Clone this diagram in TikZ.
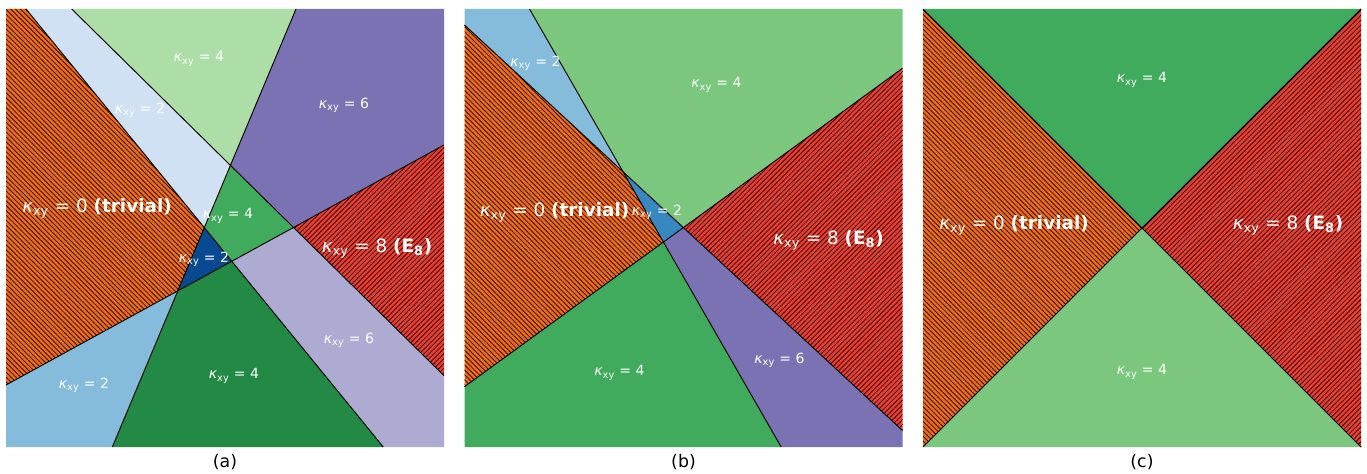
\documentclass[tikz,border=0pt]{standalone}
\usepackage{fontspec}
\setmainfont{DejaVu Sans}
\usepackage{tikz}
\usetikzlibrary{patterns.meta}
\definecolor{oranje}{HTML}{F16913}
\definecolor{rood}{HTML}{EF3B2C}
\definecolor{paars}{HTML}{7B72B4}
\definecolor{lavendel}{HTML}{ADABD2}
\definecolor{bleekblauw}{HTML}{CFE1F2}
\definecolor{middenblauw}{HTML}{85BCDB}
\definecolor{blauw}{HTML}{3787C0}
\definecolor{donkerblauw}{HTML}{084A91}
\definecolor{lichtgroen}{HTML}{ADDEA7}
\definecolor{groen}{HTML}{7BC77E}
\definecolor{middengroen}{HTML}{41AB5D}
\definecolor{donkergroen}{HTML}{228A44}
\newcommand{\kxy}[1]{\textit{κ}\textsubscript{xy} = #1}

\begin{document}
\begin{tikzpicture}[x=0.75pt, y=-0.75pt,
  rand/.style={draw=black, line width=0.7pt},
  lbl/.style={text=white, inner sep=0pt, font=\fontsize{10.5}{12}\selectfont},
  groot/.style={text=white, inner sep=0pt, font=\fontsize{13.8}{16}\selectfont},
  onder/.style={inner sep=0pt, font=\fontsize{13}{15}\selectfont},
  arceernul/.style={preaction={fill=oranje}, pattern color=black,
    pattern={Lines[angle=-45, distance=2.6pt, line width=0.5pt]}},
  arceeracht/.style={preaction={fill=rood}, pattern color=black,
    pattern={Lines[angle=45, distance=2.6pt, line width=0.5pt]}}]
  \useasboundingbox (0,0) rectangle (1367,474);
  \def\L{438} % zijde van een paneel

  % ---------- paneel (a) ----------
  \begin{scope}[shift={(6,9)}]
    % randpunten van de vier lijnen
    \coordinate (a1s) at (65.7,0);  \coordinate (a1e) at (\L,366.7);
    \coordinate (a2s) at (20,0);    \coordinate (a2e) at (377.3,\L);
    \coordinate (a3s) at (290,0);   \coordinate (a3e) at (106.3,\L);
    \coordinate (a4s) at (0,376);   \coordinate (a4e) at (\L,136);
    % snijpunten
    \coordinate (aA) at (intersection of a1s--a1e and a3s--a3e);
    \coordinate (aB) at (intersection of a2s--a2e and a3s--a3e);
    \coordinate (aC) at (intersection of a3s--a3e and a4s--a4e);
    \coordinate (aD) at (intersection of a2s--a2e and a4s--a4e);
    \coordinate (aE) at (intersection of a1s--a1e and a4s--a4e);
    % gebieden
    \fill[arceernul] (0,0) -- (a2s) -- (aB) -- (aC) -- (a4s) -- cycle;
    \fill[bleekblauw] (a2s) -- (a1s) -- (aA) -- (aB) -- cycle;
    \fill[lichtgroen] (a1s) -- (a3s) -- (aA) -- cycle;
    \fill[paars] (a3s) -- (\L,0) -- (a4e) -- (aE) -- (aA) -- cycle;
    \fill[middengroen] (aA) -- (aE) -- (aD) -- (aB) -- cycle;
    \fill[donkerblauw] (aB) -- (aD) -- (aC) -- cycle;
    \fill[arceeracht] (aE) -- (a4e) -- (a1e) -- cycle;
    \fill[lavendel] (aE) -- (a1e) -- (\L,\L) -- (a2e) -- (aD) -- cycle;
    \fill[donkergroen] (aD) -- (a2e) -- (a3e) -- (aC) -- cycle;
    \fill[middenblauw] (aC) -- (a3e) -- (0,\L) -- (a4s) -- cycle;
    % grenslijnen
    \draw[rand] (a1s) -- (a1e);
    \draw[rand] (a2s) -- (a2e);
    \draw[rand] (a3s) -- (a3e);
    \draw[rand] (a4s) -- (a4e);
    % labels
    \node[lbl] (a-vier-boven) at (193,50) {\kxy{4}};
    \node[lbl] (a-twee-boven) at (134,101) {\kxy{2}};
    \node[lbl] (a-zes-boven) at (338,96) {\kxy{6}};
    \node[groot] (a-triviaal) at (91,199) {\kxy{0} \textbf{(trivial)}};
    \node[lbl] (a-vier-mid) at (222,207) {\kxy{4}};
    \node[lbl] (a-twee-mid) at (198,250) {\kxy{2}};
    \node[groot] (a-eacht) at (371,239) {\kxy{8} \textbf{(E\textsubscript{8})}};
    \node[lbl] (a-zes-onder) at (343,331) {\kxy{6}};
    \node[lbl] (a-twee-onder) at (78,376) {\kxy{2}};
    \node[lbl] (a-vier-onder) at (228,367) {\kxy{4}};
    \node[onder] (a-titel) at (\L/2,453) {(a)};
  \end{scope}

  % ---------- paneel (b) ----------
  \begin{scope}[shift={(464.5,9)}]
    \coordinate (b1s) at (65,0);    \coordinate (b1e) at (316.7,\L);
    \coordinate (b2s) at (0,16);    \coordinate (b2e) at (\L,421.5);
    \coordinate (b3s) at (0,377.7); \coordinate (b3e) at (\L,59.3);
    \coordinate (bP) at (intersection of b1s--b1e and b2s--b2e);
    \coordinate (bQ) at (intersection of b2s--b2e and b3s--b3e);
    \coordinate (bR) at (intersection of b1s--b1e and b3s--b3e);
    % gebieden
    \fill[middenblauw] (0,0) -- (b1s) -- (bP) -- (b2s) -- cycle;
    \fill[groen] (b1s) -- (\L,0) -- (b3e) -- (bQ) -- (bP) -- cycle;
    \fill[arceernul] (b2s) -- (bP) -- (bR) -- (b3s) -- cycle;
    \fill[blauw] (bP) -- (bQ) -- (bR) -- cycle;
    \fill[arceeracht] (bQ) -- (b3e) -- (b2e) -- cycle;
    \fill[paars] (bR) -- (bQ) -- (b2e) -- (\L,\L) -- (b1e) -- cycle;
    \fill[middengroen] (b3s) -- (bR) -- (b1e) -- (0,\L) -- cycle;
    % grenslijnen
    \draw[rand] (b1s) -- (b1e);
    \draw[rand] (b2s) -- (b2e);
    \draw[rand] (b3s) -- (b3e);
    % labels
    \node[lbl] (b-twee-boven) at (71,54) {\kxy{2}};
    \node[lbl] (b-vier-boven) at (252,76) {\kxy{4}};
    \node[groot] (b-triviaal) at (90,203) {\kxy{0} \textbf{(trivial)}};
    \node[lbl] (b-twee-mid) at (192.5,203) {\kxy{2}};
    \node[groot] (b-eacht) at (364,231) {\kxy{8} \textbf{(E\textsubscript{8})}};
    \node[lbl] (b-zes) at (315,351) {\kxy{6}};
    \node[lbl] (b-vier-onder) at (155,364) {\kxy{4}};
    \node[onder] (b-titel) at (\L/2,453) {(b)};
  \end{scope}

  % ---------- paneel (c) ----------
  \begin{scope}[shift={(923,9)}]
    \coordinate (cM) at (\L/2,\L/2);
    \fill[middengroen] (0,0) -- (\L,0) -- (cM) -- cycle;
    \fill[groen] (0,\L) -- (\L,\L) -- (cM) -- cycle;
    \fill[arceernul] (0,0) -- (cM) -- (0,\L) -- cycle;
    \fill[arceeracht] (\L,0) -- (cM) -- (\L,\L) -- cycle;
    \draw[rand] (0,0) -- (cM) -- (\L,\L);
    \draw[rand] (\L,0) -- (cM) -- (0,\L);
    % labels
    \node[lbl] (c-vier-boven) at (219,71) {\kxy{4}};
    \node[groot] (c-triviaal) at (91,216) {\kxy{0} \textbf{(trivial)}};
    \node[groot] (c-eacht) at (365,216) {\kxy{8} \textbf{(E\textsubscript{8})}};
    \node[lbl] (c-vier-onder) at (219,363) {\kxy{4}};
    \node[onder] (c-titel) at (\L/2,453) {(c)};
  \end{scope}
\end{tikzpicture}
\end{document}
